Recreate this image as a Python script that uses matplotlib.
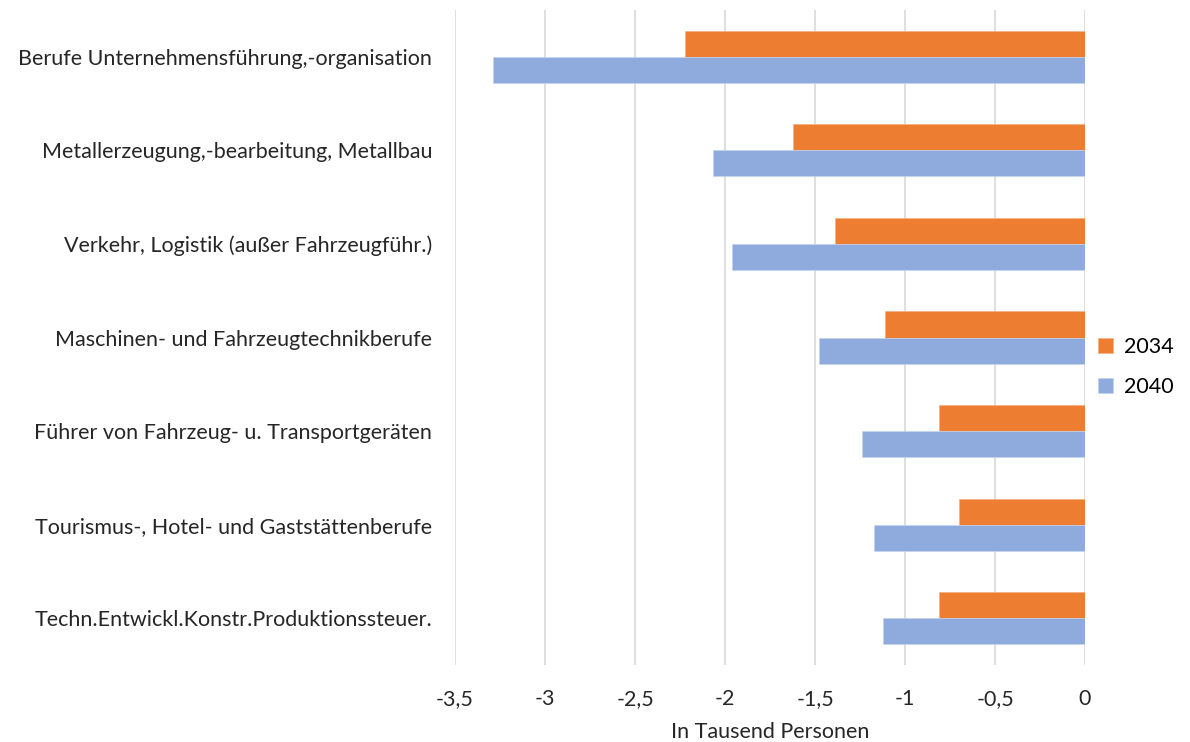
import numpy as np
import matplotlib.pyplot as plt

categories = ['Berufe Unternehmensführung,-organisation',
              'Metallerzeugung,-bearbeitung, Metallbau',
              'Verkehr, Logistik (außer Fahrzeugführ.)',
              'Maschinen- und Fahrzeugtechnikberufe',
              'Führer von Fahrzeug- u. Transportgeräten',
              'Tourismus-, Hotel- und Gaststättenberufe',
              'Techn.Entwickl.Konstr.Produktionssteuer.']
values_2034 = [-2.22, -1.62, -1.39, -1.11, -0.81, -0.70, -0.81]
values_2040 = [-3.29, -2.065, -1.96, -1.48, -1.24, -1.17, -1.125]
xticks = [-3.5, -3, -2.5, -2, -1.5, -1, -0.5, 0]
xtick_labels = ['-3,5', '-3', '-2,5', '-2', '-1,5', '-1', '-0,5', '0']

plt.rcParams['font.family'] = ['Lato', 'DejaVu Sans']

fig = plt.figure(figsize=(11.9, 7.42), dpi=100)
ax = fig.add_axes([455/1190, 1 - 665/742, 630/1190, 655/742])

y = np.arange(len(categories))
h = 0.278
ax.barh(y - h/2, values_2034, height=h, color='#ED7D31', edgecolor='#f4b183', linewidth=0.5, label='2034', zorder=3)
ax.barh(y + h/2, values_2040, height=h, color='#8FAADC', edgecolor='#c5d3ee', linewidth=0.5, label='2040', zorder=3)

ax.set_ylim(len(categories) - 0.5, -0.5)
ax.set_xlim(-3.5, 0)
ax.set_yticks(y)
ax.set_yticklabels(categories, fontsize=15.5, color='#262626')
ax.set_xticks(xticks)
ax.set_xticklabels(xtick_labels, fontsize=15.5, color='#262626')
ax.tick_params(length=0)
ax.tick_params(axis='y', pad=16.5)
ax.tick_params(axis='x', pad=17)

## light vertical gridlines like in the spreadsheet chart
ax.grid(axis='x', color='#d9d9d9', linewidth=1.2, zorder=0)
for s in ax.spines.values():
    s.set_visible(False)

ax.set_xlabel('In Tausend Personen', fontsize=15.5, color='#262626', labelpad=10)

ax.legend(loc='center left', bbox_to_anchor=(1.0, 0.455), frameon=False,
          fontsize=15.5, handlelength=0.7, handleheight=0.7, handletextpad=0.5,
          labelspacing=0.95, borderaxespad=0.2)

fig.savefig('out.png', dpi=100)
